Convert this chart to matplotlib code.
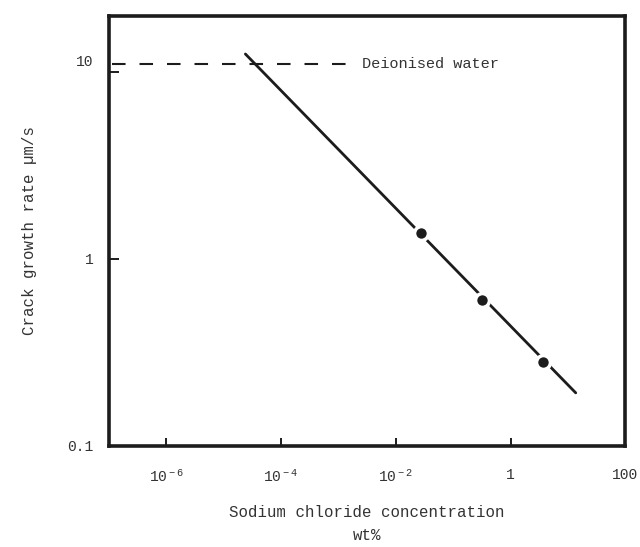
import matplotlib
matplotlib.use("Agg")
import matplotlib.pyplot as plt
from matplotlib.ticker import FixedLocator, NullLocator
from matplotlib.transforms import ScaledTranslation

plt.rcParams['font.family'] = ['Liberation Mono', 'DejaVu Sans Mono']
plt.rcParams['mathtext.fontset'] = 'custom'
plt.rcParams['mathtext.rm'] = 'Liberation Mono'
plt.rcParams['mathtext.it'] = 'Liberation Mono'

# measured points (NaCl wt%, crack growth rate um/s)
nacl = [0.028, 0.32, 3.7]
rate = [1.38, 0.60, 0.28]

# fitted line end points
fit_x = [2.4e-5, 13.7]
fit_y = [12.5, 0.192]

# deionised water level
water_x = [1.15e-7, 1.4e-3]
water_y = [11.0, 11.0]

xticks = [1e-6, 1e-4, 1e-2, 1, 100]
xlabels = [r'$10^{\,-6}$', r'$10^{\,-4}$', r'$10^{\,-2}$', '1', '100']
yticks = [0.1, 1, 10]
ylabels = ['0.1', '1', '10']

ink = '#1c1c1c'
txt = '#333333'

fig = plt.figure(figsize=(6.4, 5.47), dpi=100)
ax = fig.add_axes([0.170, 0.185, 0.807, 0.786])

ax.set_xscale('log')
ax.set_yscale('log')
ax.set_xlim(1e-7, 1e2)
ax.set_ylim(0.1, 20)

ax.plot(water_x, water_y, color=ink, lw=1.5, linestyle=(0, (6.5, 6.7)))
ax.text(2.6e-3, 11.0, 'Deionised water', fontsize=11, color=txt,
        ha='left', va='center')

ax.plot(fit_x, fit_y, color=ink, lw=2.0, solid_capstyle='round')
ax.plot(nacl, rate, linestyle='none', marker='o', markersize=10,
        markerfacecolor=ink, markeredgecolor='white', markeredgewidth=2.5)

ax.xaxis.set_major_locator(FixedLocator(xticks))
ax.xaxis.set_minor_locator(NullLocator())
ax.set_xticklabels(xlabels)
ax.yaxis.set_major_locator(FixedLocator(yticks))
ax.yaxis.set_minor_locator(NullLocator())
ax.set_yticklabels(ylabels)

ax.tick_params(axis='x', direction='in', length=6, width=1.4, color=ink,
               pad=16, labelsize=10.5, labelcolor=txt)
ax.tick_params(axis='y', direction='in', length=7, width=1.4, color=ink,
               pad=11, labelsize=10.5, labelcolor=txt)

# the "10" label sits level with the dashed line in the original
lab10 = ax.get_yticklabels()[2]
lab10.set_transform(lab10.get_transform() +
                    ScaledTranslation(0, 8 / 72, fig.dpi_scale_trans))

for s in ax.spines.values():
    s.set_linewidth(2.6)
    s.set_color(ink)

ax.set_ylabel('Crack growth rate µm/s', fontsize=11.3, color=txt,
              labelpad=22)
ax.set_xlabel('Sodium chloride concentration\nwt%', fontsize=11.3,
              color=txt, labelpad=15, linespacing=1.6)

fig.savefig('out.png', dpi=100, facecolor='white')
